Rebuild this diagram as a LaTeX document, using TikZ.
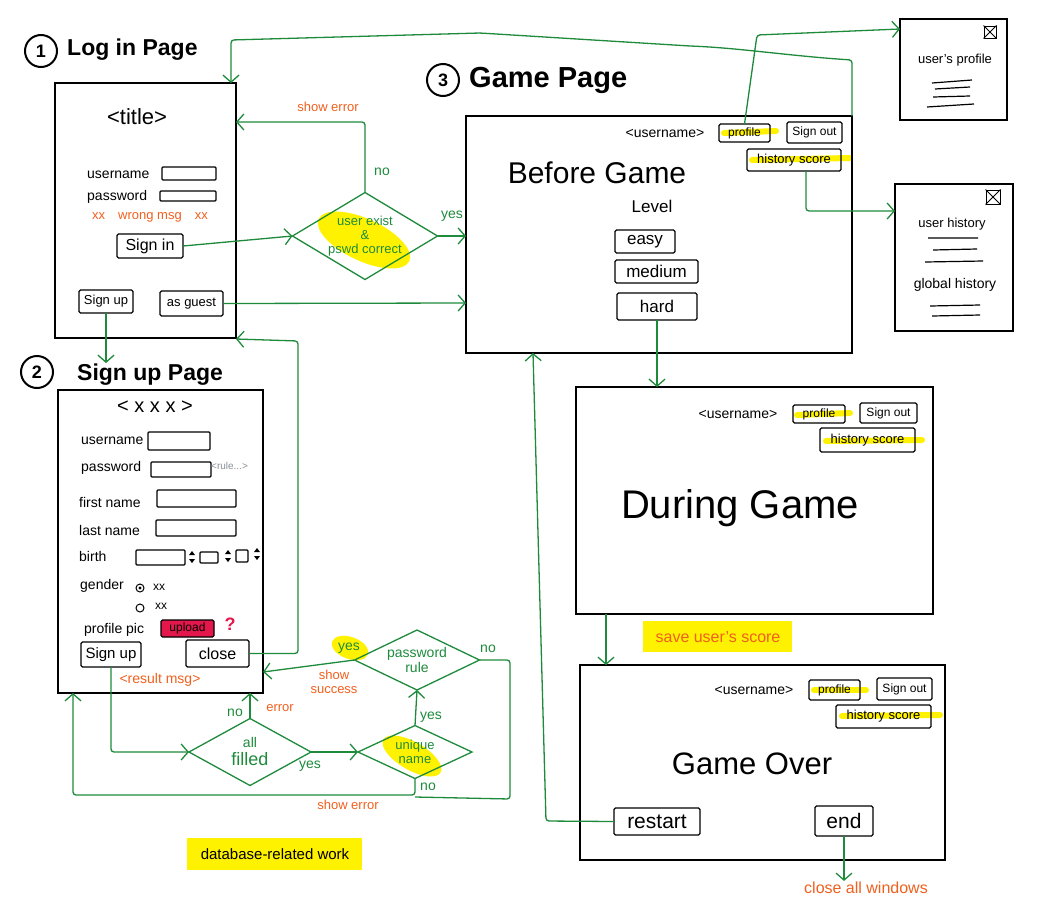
\documentclass[tikz,border=0pt]{standalone}
\usepackage{fontspec}
\setmainfont{Liberation Sans}
\usetikzlibrary{arrows.meta,shapes.geometric,calc}
\definecolor{grn}{HTML}{1E8B3C}
\definecolor{org}{HTML}{F0601E}
\definecolor{hly}{HTML}{FFF200}
\definecolor{upred}{HTML}{E3174B}
\definecolor{rulegray}{HTML}{8A9098}
\newcommand\myfs[1]{\fontsize{#1}{#1}\selectfont}
\newcommand\mybox[7][]{\node[#1, minimum width={(#5)-(#3)}, minimum height={(#6)-(#4)}] (#2) at ({((#3)+(#5))/2},{((#4)+(#6))/2}) {#7};}
\newcommand\spinner[2]{\fill (#1-3,#2-2) -- (#1+3,#2-2) -- (#1,#2-6) -- cycle; \fill (#1-3,#2+2) -- (#1+3,#2+2) -- (#1,#2+6) -- cycle;}
\tikzset{
  pagebox/.style={draw, line width=1.8pt, inner sep=0pt, outer sep=0pt},
  btn/.style={draw, line width=1.3pt, inner sep=0pt, outer sep=0pt, rounded corners=1.5pt, font=\myfs{13}},
  inbox/.style={draw, line width=1.2pt, inner sep=0pt, outer sep=0pt, rounded corners=1pt},
  diam/.style={diamond, draw=grn, line width=1.3pt, inner sep=0pt, outer sep=0pt, text=grn, align=center},
  conn/.style={draw=grn, line width=1.3pt, rounded corners=3pt, -{Straight Barb[length=7pt,width=16pt,line width=1.3pt]}},
  gline/.style={draw=grn, line width=1.3pt, rounded corners=3pt},
  glab/.style={text=grn, font=\myfs{14}, inner sep=1pt},
  olab/.style={text=org, font=\myfs{13}, inner sep=1pt},
  txt/.style={font=\myfs{14}, inner sep=1pt},
  ttl/.style={font=\bfseries\myfs{23}, inner sep=1pt},
  num/.style={circle, draw, line width=2pt, minimum size=32pt, inner sep=0pt, font=\bfseries\myfs{18}},
  hlstroke/.style={draw=hly, line width=6pt, line cap=round},
  xicon/.style={draw, line width=1pt, minimum size=12pt, inner sep=0pt},
}
\begin{document}
\begin{tikzpicture}[x=1pt,y=-1pt]
\fill[white] (0,0) rectangle (1046,908);
\useasboundingbox (0,0) rectangle (1046,908);

% ---------- highlights (behind) ----------
\fill[hly, rotate around={-25:(364,240)}] (364,240) ellipse (50pt and 21pt);
\fill[hly, rotate around={-30:(412,756)}] (412,756) ellipse (33pt and 14pt);
\fill[hly, rotate around={-20:(350,648)}] (350,648) ellipse (19pt and 11pt);
\fill[hly] (643,621) rectangle (792,652);
\fill[hly] (187,838) rectangle (362,870);
\draw[hlstroke] (724,133) -- (776,131);
\draw[hlstroke] (752,160) -- (850,158);
\draw[hlstroke] (797,415) -- (850,413);
\draw[hlstroke] (826,441) -- (922,440);
\draw[hlstroke] (814,690) -- (866,690);
\draw[hlstroke] (842,716) -- (940,715);

% ---------- titles ----------
\node[num] (c1) at (41,51) {1};
\node[ttl, anchor=west, font=\bfseries\myfs{23}] (t1) at (66,50) {Log in Page};
\node[num] (c2) at (37,372) {2};
\node[ttl, anchor=west] (t2) at (76,375) {Sign up Page};
\node[num] (c3) at (443,80) {3};
\node[ttl, anchor=west, font=\bfseries\myfs{29}] (t3) at (468,80) {Game Page};

% ---------- Log in page ----------
\mybox[pagebox]{login}{55}{83}{236}{338}{}
\node[font=\myfs{22}] (ltitle) at (137,117) {<title>};
\node[txt, anchor=west] (lun) at (86,175) {username};
\mybox[inbox]{lib1}{162}{167}{216}{180}{}
\node[txt, anchor=west] (lpw) at (86,197) {password};
\mybox[inbox]{lib2}{160}{191}{216}{201}{}
\node[olab] (lwm) at (150,217) {xx\quad wrong msg\quad xx};
\mybox[btn, font=\myfs{16}]{signin}{117}{234}{183}{258}{Sign in}
\mybox[btn]{signupb}{79}{290}{133}{313}{Sign up}
\mybox[btn]{guest}{160}{291}{223}{316}{as guest}

% ---------- login diamond ----------
\node[diam, minimum width=145pt, minimum height=87pt, aspect=1.7, font=\myfs{13}] (ue) at (365,236) {user exist\\[1pt]\&\\[1pt]pswd correct};
\node[olab] (lse) at (328,107) {show error};
\node[glab] (lno) at (382,172) {no};
\node[glab] (lyes) at (452,216) {yes};

% ---------- Sign up page ----------
\mybox[pagebox]{su}{58}{390}{263}{693}{}
\node[font=\myfs{20}] (sutitle) at (155,407) {< x x x >};
\node[txt, anchor=west] (sun) at (80,441) {username};
\mybox[inbox]{sb1}{148}{432}{210}{450}{}
\node[txt, anchor=west] (spw) at (80,468) {password};
\mybox[inbox]{sb2}{151}{462}{211}{477}{}
\node[text=rulegray, font=\myfs{10}, anchor=west, inner sep=0pt] (srule) at (211,466) {<rule...>};
\node[txt, anchor=west] (sfn) at (78,502) {first name};
\mybox[inbox]{sb3}{157}{490}{236}{507}{}
\node[txt, anchor=west] (sln) at (78,530) {last name};
\mybox[inbox]{sb4}{156}{520}{236}{536}{}
\node[txt, anchor=west] (sbi) at (78,556) {birth};
\mybox[inbox]{sb5}{136}{550}{185}{565}{}
\mybox[inbox]{sb6}{200}{552}{218}{563}{}
\mybox[inbox]{sb7}{236}{550}{248}{562}{}
\spinner{192}{557}
\spinner{228}{556}
\spinner{257}{554}
\node[txt, anchor=west] (sge) at (79,586) {gender};
\node[circle, draw, line width=1pt, minimum size=8pt, inner sep=0pt] (rad1) at (140,588) {};
\fill (rad1) circle (1.6pt);
\node[txt, anchor=west, font=\myfs{12}] (rx1) at (152,587) {xx};
\node[circle, draw, line width=1pt, minimum size=8pt, inner sep=0pt] (rad2) at (140,608) {};
\node[txt, anchor=west, font=\myfs{12}] (rx2) at (154,606) {xx};
\node[txt, anchor=west] (spp) at (83,630) {profile pic};
\mybox[btn, fill=upred, font=\myfs{12}]{upload}{161}{620}{214}{637}{upload}
\node[text=upred, font=\bfseries\myfs{18}] (qm) at (230,624) {?};
\mybox[btn, font=\myfs{15}]{subtn}{81}{642}{141}{667}{Sign up}
\mybox[btn, font=\myfs{16}]{closebtn}{186}{640}{249}{667}{close}
\node[olab, font=\myfs{14}] (srm) at (160,680) {<result msg>};

% ---------- sign up diamonds ----------
\node[diam, minimum width=122pt, minimum height=67pt, aspect=1.82, font=\myfs{14}] (af) at (250,752) {all\\[4pt]{\myfs{18}filled}};
\node[diam, minimum width=114pt, minimum height=53pt, aspect=2.15, font=\myfs{13}] (un) at (415,752) {unique\\[1pt]name};
\node[diam, minimum width=125pt, minimum height=60pt, aspect=2.08, font=\myfs{14}] (pr) at (417,660) {password\\[1pt]rule};
\node[glab] (ano) at (235,713) {no};
\node[olab] (aerr) at (280,708) {error};
\node[glab] (ayes) at (310,766) {yes};
\node[glab] (uyes) at (431,717) {yes};
\node[glab] (uno) at (428,787) {no};
\node[olab] (sse) at (348,805) {show error};
\node[glab] (pno) at (488,649) {no};
\node[glab] (pyes) at (349,648) {yes};
\node[olab, align=center] (ssu) at (334,682) {show\\[1pt]success};
\node[font=\myfs{15}] (dbw) at (275,854) {database-related work};

% ---------- Game page (before game) ----------
\mybox[pagebox]{bg}{466}{116}{852}{353}{}
\node[txt] (bgun) at (665,133) {<username>};
\mybox[btn, font=\myfs{12}]{prof1}{719}{124}{770}{142}{profile}
\mybox[btn, font=\myfs{12}]{so1}{787}{122}{842}{143}{Sign out}
\mybox[btn, font=\myfs{13}]{hs1}{747}{149}{841}{171}{history score}
\node[font=\myfs{30}] (bgt) at (597,173) {Before Game};
\node[font=\myfs{17}] (lvl) at (652,206) {Level};
\mybox[btn, font=\myfs{17}]{easy}{615}{230}{675}{253}{easy}
\mybox[btn, font=\myfs{17}]{medium}{615}{260}{698}{283}{medium}
\mybox[btn, font=\myfs{17}]{hard}{617}{293}{697}{320}{hard}

% ---------- popups ----------
\mybox[pagebox]{upop}{900}{19}{1007}{120}{}
\node[xicon] (x1) at (990,32) {};
\draw[line width=0.9pt] (x1.north west) -- (x1.south east) (x1.north east) -- (x1.south west);
\node[txt, font=\myfs{13}] (upt) at (955,60) {user's profile};
\draw[line width=1.2pt] (932,83) -- (972,80) (935,89) -- (970,87) (933,97) -- (970,96) (927,107) -- (974,104);

\mybox[pagebox]{uhist}{895}{184}{1013}{331}{}
\node[xicon, minimum size=14pt] (x2) at (993,197) {};
\draw[line width=0.9pt] (x2.north west) -- (x2.south east) (x2.north east) -- (x2.south west);
\node[txt, font=\myfs{13}] (uht) at (952,224) {user history};
\draw[line width=1.2pt] (928,238) -- (978,238) (933,250) -- (977,249) (925,262) -- (983,261);
\node[txt] (ght) at (955,285) {global history};
\draw[line width=1.2pt] (930,306) -- (980,305) (932,316) -- (980,315);

% ---------- During game ----------
\mybox[pagebox]{dg}{576}{387}{933}{614}{}
\node[txt] (dgun) at (738,414) {<username>};
\mybox[btn, font=\myfs{12}]{prof2}{793}{405}{845}{423}{profile}
\mybox[btn, font=\myfs{12}]{so2}{860}{403}{917}{423}{Sign out}
\mybox[btn, font=\myfs{13}]{hs2}{820}{428}{915}{452}{history score}
\node[font=\myfs{40}] (dgt) at (740,508) {During Game};
\node[olab, font=\myfs{16}] (sus) at (718,637) {save user's score};

% ---------- Game over ----------
\mybox[pagebox]{go}{580}{665}{945}{860}{}
\node[txt] (goun) at (754,690) {<username>};
\mybox[btn, font=\myfs{12}]{prof3}{809}{680}{860}{700}{profile}
\mybox[btn, font=\myfs{12}]{so3}{877}{678}{932}{700}{Sign out}
\mybox[btn, font=\myfs{13}]{hs3}{836}{705}{931}{728}{history score}
\node[font=\myfs{31}] (got) at (752,764) {Game Over};
\mybox[btn, font=\myfs{21}]{restart}{614}{808}{700}{835}{restart}
\mybox[btn, font=\myfs{21}]{endbtn}{815}{806}{873}{836}{end}
\node[olab, font=\myfs{16}] (caw) at (866,888) {close all windows};

% ---------- connectors ----------
\draw[conn] (signin.east) -- (ue.west);
\draw[conn] (ue.north) |- (login.east |- 0,122);
\draw[conn] (ue.east) -- (bg.west |- ue.east);
\draw[conn] (guest.east) -- (bg.west |- 0,303);
\draw[conn] (signupb.south) -- (signupb.south |- t2.north);
\draw[conn] (bg.north east) -- (852,60) .. controls (790,56) and (740,48) .. (690,46) -- (480,33) -- (231,40) -- (login.north -| 231,0);
\draw[conn] (prof1.north) -- (757,35) -- (upop.west |- 0,29);
\draw[conn] ([xshift=12pt]hs1.south) |- (uhist.west |- 0,211);
\draw[conn] (hard.south) -- (dg.north -| hard.south);
\draw[conn] (dg.south -| 606,0) -- (go.north -| 606,0);
\draw[conn] (restart.west) -- (546,821) -- (bg.south -| 533,0);
\draw[conn] (endbtn.south) -- (caw.north -| endbtn.south);
\draw[conn] (subtn.south) |- (af.west);
\draw[conn] (closebtn.east) -| (298,341) -- (login.east |- 0,339);
\draw[conn] (af.north) -- (af.north |- su.south);
\draw[conn] (af.east) -- (un.west);
\draw[conn] (un.north) -- (pr.south);
\draw[conn] (un.south) |- (73,795) -- (su.south -| 73,0);
\draw[gline] (pr.east) -| (510,799) -- (un.south |- 0,797);
\draw[conn] (pr.west) -- (su.east |- 0,672);
\end{tikzpicture}
\end{document}
